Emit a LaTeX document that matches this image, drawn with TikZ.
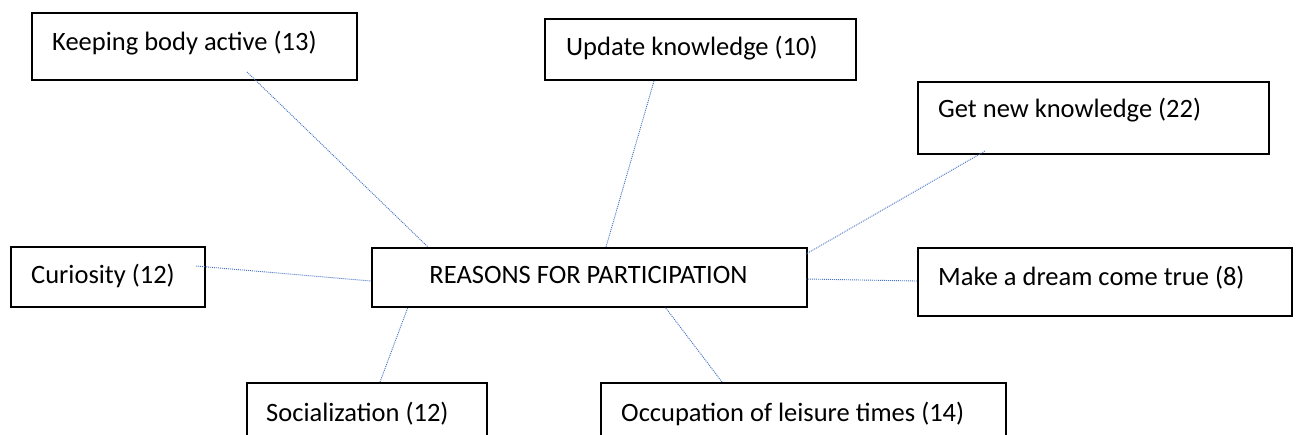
\documentclass[tikz,border=0pt]{standalone}
\usepackage{fontspec}
\setmainfont{Carlito}
\definecolor{linkblue}{RGB}{68,114,196}
\begin{document}
\begin{tikzpicture}[x=1pt,y=-1pt,
  box/.style={draw=black,line width=1.6pt,fill=white,inner sep=0pt,anchor=north west},
  lbl/.style={anchor=base west,inner sep=0pt,font=\fontsize{26.5}{30}\selectfont},
  link/.style={draw=linkblue,line width=0.9pt,dash pattern=on 1pt off 1pt}]
\useasboundingbox (0,0) rectangle (1298,434);
\clip (0,0) rectangle (1298,434);
\fill[white] (0,0) rectangle (1298,434);
% boxes
\node[box,minimum width=325pt,minimum height=67pt] (kb) at (31,12) {};
\node[box,minimum width=311pt,minimum height=61pt] (uk) at (544,18) {};
\node[box,minimum width=351pt,minimum height=72pt] (gk) at (917,81) {};
\node[box,minimum width=374pt,minimum height=68pt] (md) at (917,247) {};
\node[box,minimum width=194pt,minimum height=60pt] (cu) at (10,246) {};
\node[box,minimum width=435pt,minimum height=59pt] (rp) at (371,247) {};
\node[box,minimum width=240pt,minimum height=70pt] (so) at (246,382) {};
\node[box,minimum width=405pt,minimum height=70pt] (oc) at (600,382) {};
% labels
\node[lbl] (kbt) at (52,50) {Keeping body active (13)};
\node[lbl] (ukt) at (566,55) {Update knowledge (10)};
\node[lbl] (gkt) at (938,117) {Get new knowledge (22)};
\node[lbl] (mdt) at (938,285) {Make a dream come true (8)};
\node[lbl] (cut) at (31,283) {Curiosity (12)};
\node[lbl,anchor=base] (rpt) at (588.5,283) {REASONS FOR PARTICIPATION};
\node[lbl] (sot) at (266,421) {Socialization (12)};
\node[lbl] (oct) at (621,421) {Occupation of leisure times (14)};
% connector end points
\coordinate (kb-e) at (247,72);
\coordinate (rp-kb) at (428,247);
\coordinate (uk-e) at (654,81);
\coordinate (rp-uk) at (606,247);
\coordinate (gk-e) at (985,151);
\coordinate (rp-gk) at (806,254);
\coordinate (md-e) at (917,281);
\coordinate (rp-md) at (806,279);
\coordinate (cu-e) at (196,266);
\coordinate (rp-cu) at (371,281);
\coordinate (so-e) at (380,382);
\coordinate (rp-so) at (408,307);
\coordinate (oc-e) at (722,382);
\coordinate (rp-oc) at (665,307);
% connectors
\draw[link] (kb-e) -- (rp-kb);
\draw[link] (uk-e) -- (rp-uk);
\draw[link] (gk-e) -- (rp-gk);
\draw[link] (md-e) -- (rp-md);
\draw[link] (cu-e) -- (rp-cu);
\draw[link] (so-e) -- (rp-so);
\draw[link] (oc-e) -- (rp-oc);
\end{tikzpicture}
\end{document}
